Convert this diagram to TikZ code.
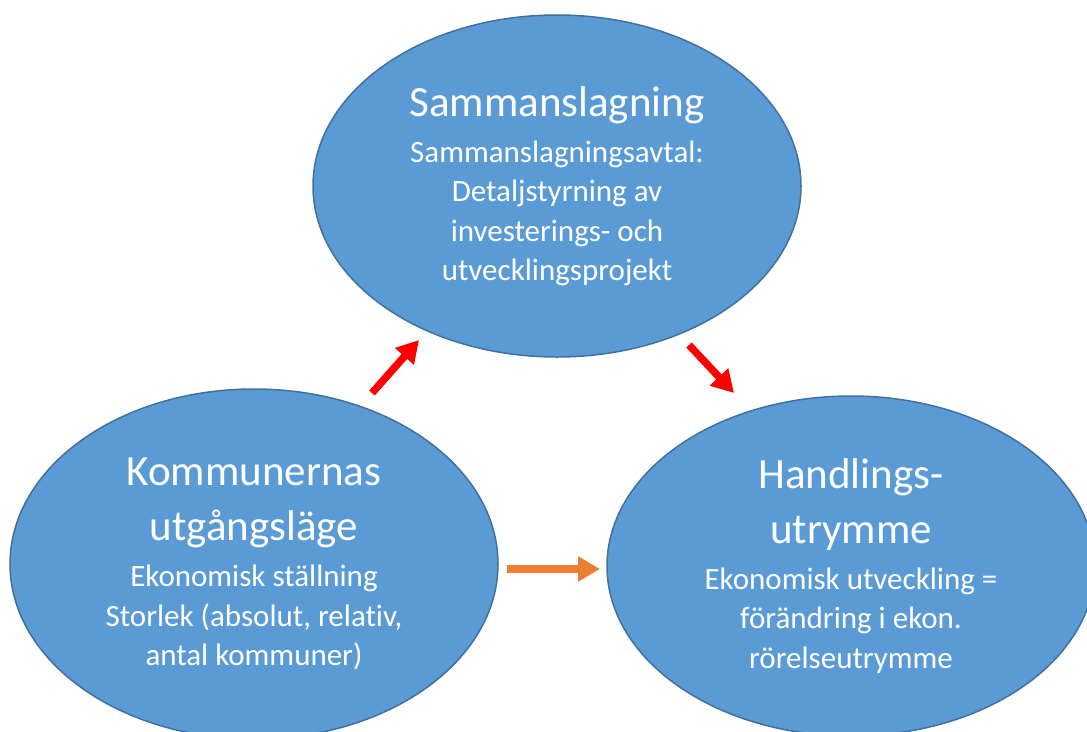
\documentclass[tikz,border=0pt]{standalone}
\usepackage{fontspec}
\setmainfont[Ligatures=NoCommon]{Carlito}
\usetikzlibrary{shapes.geometric,arrows.meta}
\definecolor{bubblefill}{HTML}{5B9BD5}
\definecolor{bubbleline}{HTML}{41719C}
\definecolor{pushred}{HTML}{FF0000}
\definecolor{pushorange}{HTML}{ED7D31}
\newcommand\headtxt{\fontsize{43}{39.5}\selectfont}
\newcommand\bodytxt{\fontsize{31}{39.5}\selectfont}
\begin{document}
\begin{tikzpicture}
[x=1pt,y=-1pt,
bubble/.style={ellipse,draw=bubbleline,fill=bubblefill,line width=1.5pt,
	text=white,align=center,inner sep=0pt,font=\bodytxt},
push/.style={line width=7.5pt,-{Triangle[length=22pt,width=24pt]}}]
\clip (0,0) rectangle (1087,731);
\node[bubble,minimum width=488pt,minimum height=342pt] (samm) at (557,186)
	{\headtxt Sammanslagning\\[6.5pt]
	Sammanslagningsavtal:\\
	Detaljstyrning av\\
	investerings- och\\
	utvecklingsprojekt};
\node[bubble,minimum width=488pt,minimum height=350pt] (komm) at (254,564)
	{\headtxt Kommunernas\\[15.5pt]
	\headtxt utgångsläge\\[6.5pt]
	Ekonomisk ställning\\
	Storlek (absolut, relativ,\\
	antal kommuner)};
\node[bubble,minimum width=488pt,minimum height=340pt] (handl) at (851,566)
	{\headtxt Handlings-\\[15.5pt]
	\headtxt utrymme\\[6.5pt]
	Ekonomisk utveckling =\\
	förändring i ekon.\\
	rörelseutrymme};
% arrows between the bubbles
\coordinate (up1) at (372,393);
\coordinate (up2) at (419,340);
\coordinate (dn1) at (689,345);
\coordinate (dn2) at (734,393);
\coordinate (rt1) at (507,569);
\coordinate (rt2) at (600,569);
\draw[push,pushred] (up1) -- (up2);
\draw[push,pushred] (dn1) -- (dn2);
\draw[push,line width=8pt,pushorange] (rt1) -- (rt2);
\end{tikzpicture}
\end{document}
